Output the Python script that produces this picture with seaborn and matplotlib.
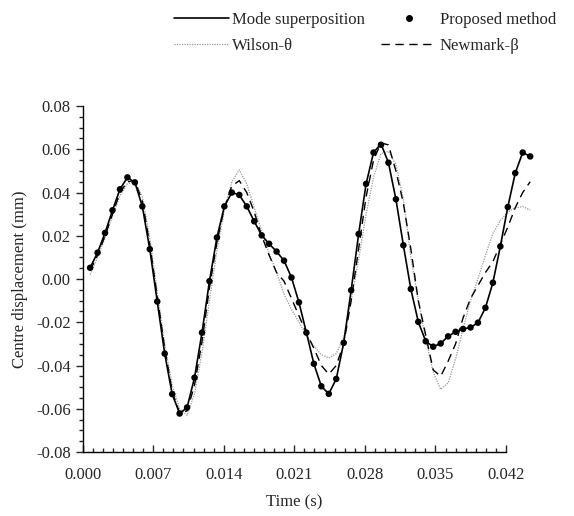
import matplotlib
matplotlib.use('Agg')
import matplotlib.pyplot as plt
import seaborn as sns
from matplotlib.lines import Line2D
from matplotlib.ticker import MultipleLocator, FormatStrFormatter

# time grid (s)
times = [0.00074, 0.00148, 0.00222, 0.00296, 0.00370, 0.00444, 0.00518, 0.00592, 0.00666, 0.00740,
         0.00814, 0.00888, 0.00962, 0.01036, 0.01110, 0.01184, 0.01258, 0.01332, 0.01406, 0.01480,
         0.01554, 0.01628, 0.01702, 0.01776, 0.01850, 0.01924, 0.01998, 0.02072, 0.02146, 0.02220,
         0.02294, 0.02368, 0.02442, 0.02516, 0.02590, 0.02664, 0.02738, 0.02812, 0.02886, 0.02960,
         0.03034, 0.03108, 0.03182, 0.03256, 0.03330, 0.03404, 0.03478, 0.03552, 0.03626, 0.03700,
         0.03774, 0.03848, 0.03922, 0.03996, 0.04070, 0.04144, 0.04218, 0.04292, 0.04366, 0.04440]

# centre displacement (mm)
proposed = [0.0052, 0.0122, 0.0213, 0.0318, 0.0415, 0.0470, 0.0447, 0.0336, 0.0138, -0.0104,
            -0.0345, -0.0532, -0.0622, -0.0594, -0.0456, -0.0248, -0.0010, 0.0192, 0.0336, 0.0400,
            0.0389, 0.0336, 0.0267, 0.0202, 0.0163, 0.0127, 0.0085, 0.0007, -0.0108, -0.0248,
            -0.0392, -0.0496, -0.0531, -0.0462, -0.0295, -0.0052, 0.0208, 0.0440, 0.0585, 0.0621,
            0.0538, 0.0369, 0.0156, -0.0046, -0.0198, -0.0288, -0.0313, -0.0298, -0.0265, -0.0244,
            -0.0231, -0.0224, -0.0202, -0.0133, -0.0017, 0.0151, 0.0333, 0.0490, 0.0585, 0.0567]

mode_sup = [0.0052, 0.0122, 0.0213, 0.0318, 0.0415, 0.0470, 0.0447, 0.0336, 0.0138, -0.0104,
            -0.0345, -0.0532, -0.0622, -0.0594, -0.0456, -0.0248, -0.0010, 0.0192, 0.0336, 0.0400,
            0.0389, 0.0336, 0.0267, 0.0202, 0.0163, 0.0127, 0.0085, 0.0007, -0.0108, -0.0248,
            -0.0392, -0.0496, -0.0531, -0.0462, -0.0295, -0.0052, 0.0208, 0.0440, 0.0585, 0.0625,
            0.0538, 0.0369, 0.0156, -0.0046, -0.0198, -0.0288, -0.0313, -0.0298, -0.0265, -0.0244,
            -0.0231, -0.0224, -0.0202, -0.0133, -0.0017, 0.0151, 0.0333, 0.0490, 0.0585, 0.0567]

wilson = [0.0020, 0.0100, 0.0190, 0.0290, 0.0385, 0.0440, 0.0450, 0.0380, 0.0190, -0.0060,
          -0.0300, -0.0490, -0.0600, -0.0630, -0.0530, -0.0340, -0.0100, 0.0130, 0.0320, 0.0450,
          0.0505, 0.0440, 0.0330, 0.0225, 0.0120, 0.0030, -0.0070, -0.0140, -0.0200, -0.0260,
          -0.0310, -0.0350, -0.0365, -0.0345, -0.0270, -0.0100, 0.0090, 0.0300, 0.0470, 0.0580,
          0.0590, 0.0530, 0.0370, 0.0100, -0.0100, -0.0280, -0.0430, -0.0510, -0.0480, -0.0370,
          -0.0230, -0.0100, 0.0000, 0.0110, 0.0210, 0.0270, 0.0310, 0.0330, 0.0335, 0.0320]

newmark = [0.0040, 0.0110, 0.0200, 0.0300, 0.0400, 0.0450, 0.0455, 0.0360, 0.0160, -0.0080,
           -0.0320, -0.0520, -0.0620, -0.0610, -0.0490, -0.0290, -0.0040, 0.0170, 0.0330, 0.0430,
           0.0455, 0.0400, 0.0310, 0.0200, 0.0110, 0.0030, -0.0010, -0.0090, -0.0170, -0.0250,
           -0.0320, -0.0400, -0.0440, -0.0400, -0.0300, -0.0100, 0.0140, 0.0380, 0.0550, 0.0630,
           0.0620, 0.0500, 0.0350, 0.0140, -0.0100, -0.0260, -0.0420, -0.0450, -0.0380, -0.0300,
           -0.0180, -0.0090, -0.0030, 0.0030, 0.0080, 0.0160, 0.0240, 0.0330, 0.0400, 0.0450]

sns.set_style('ticks')
plt.rcParams['font.family'] = ['Liberation Serif', 'DejaVu Serif']
plt.rcParams['font.size'] = 12
plt.rcParams['axes.unicode_minus'] = False

fig = plt.figure(figsize=(5.74, 5.16), dpi=100)
ax = fig.add_axes([0.144, 0.124, 0.7375, 0.6705])

sns.lineplot(x=times, y=wilson, ax=ax, color='#999999', linewidth=0.9, linestyle=(0, (1, 1)), clip_on=False)
sns.lineplot(x=times, y=newmark, ax=ax, color='black', linewidth=1.0, linestyle=(0, (6, 4)), clip_on=False)
sns.lineplot(x=times, y=mode_sup, ax=ax, color='black', linewidth=1.2, clip_on=False)
sns.scatterplot(x=times, y=proposed, ax=ax, color='black', s=22, edgecolor='none', zorder=5, clip_on=False)

ax.set_xlim(0, 0.042)
ax.set_ylim(-0.08, 0.08)
ax.xaxis.set_major_locator(MultipleLocator(0.007))
ax.xaxis.set_minor_locator(MultipleLocator(0.001))
ax.yaxis.set_major_locator(MultipleLocator(0.02))
ax.yaxis.set_minor_locator(MultipleLocator(0.005))
ax.xaxis.set_major_formatter(FormatStrFormatter('%.3f'))
ax.yaxis.set_major_formatter(FormatStrFormatter('%.2f'))
ax.tick_params(axis='x', which='major', direction='in', length=5, width=1, pad=11, labelsize=12)
ax.tick_params(axis='x', which='minor', direction='in', length=3, width=1)
ax.tick_params(axis='y', which='major', direction='out', length=5, width=1, labelsize=12)
ax.tick_params(axis='y', which='minor', direction='out', length=3, width=1)
sns.despine(ax=ax)
for sp in ['left', 'bottom']:
    ax.spines[sp].set_color('black')
    ax.spines[sp].set_linewidth(1)

ax.set_xlabel('Time (s)', fontsize=12, labelpad=8)
ax.set_ylabel('Centre displacement (mm)', fontsize=12, labelpad=6)

handles = [
    Line2D([], [], color='black', linewidth=1.2),
    Line2D([], [], color='#999999', linewidth=0.9, linestyle=(0, (1, 1))),
    Line2D([], [], color='black', marker='o', markersize=4, linestyle='none'),
    Line2D([], [], color='black', linewidth=1.0, linestyle=(0, (6, 4))),
]
labels = ['Mode superposition', 'Wilson-θ', 'Proposed method', 'Newmark-β']
fig.legend(handles, labels, ncol=2, loc='upper left', bbox_to_anchor=(0.282, 1.0),
           frameon=False, fontsize=12, handlelength=3.3, handletextpad=0.2,
           columnspacing=1.0, labelspacing=0.6, borderpad=0.2)

fig.savefig('out.png', dpi=100)
